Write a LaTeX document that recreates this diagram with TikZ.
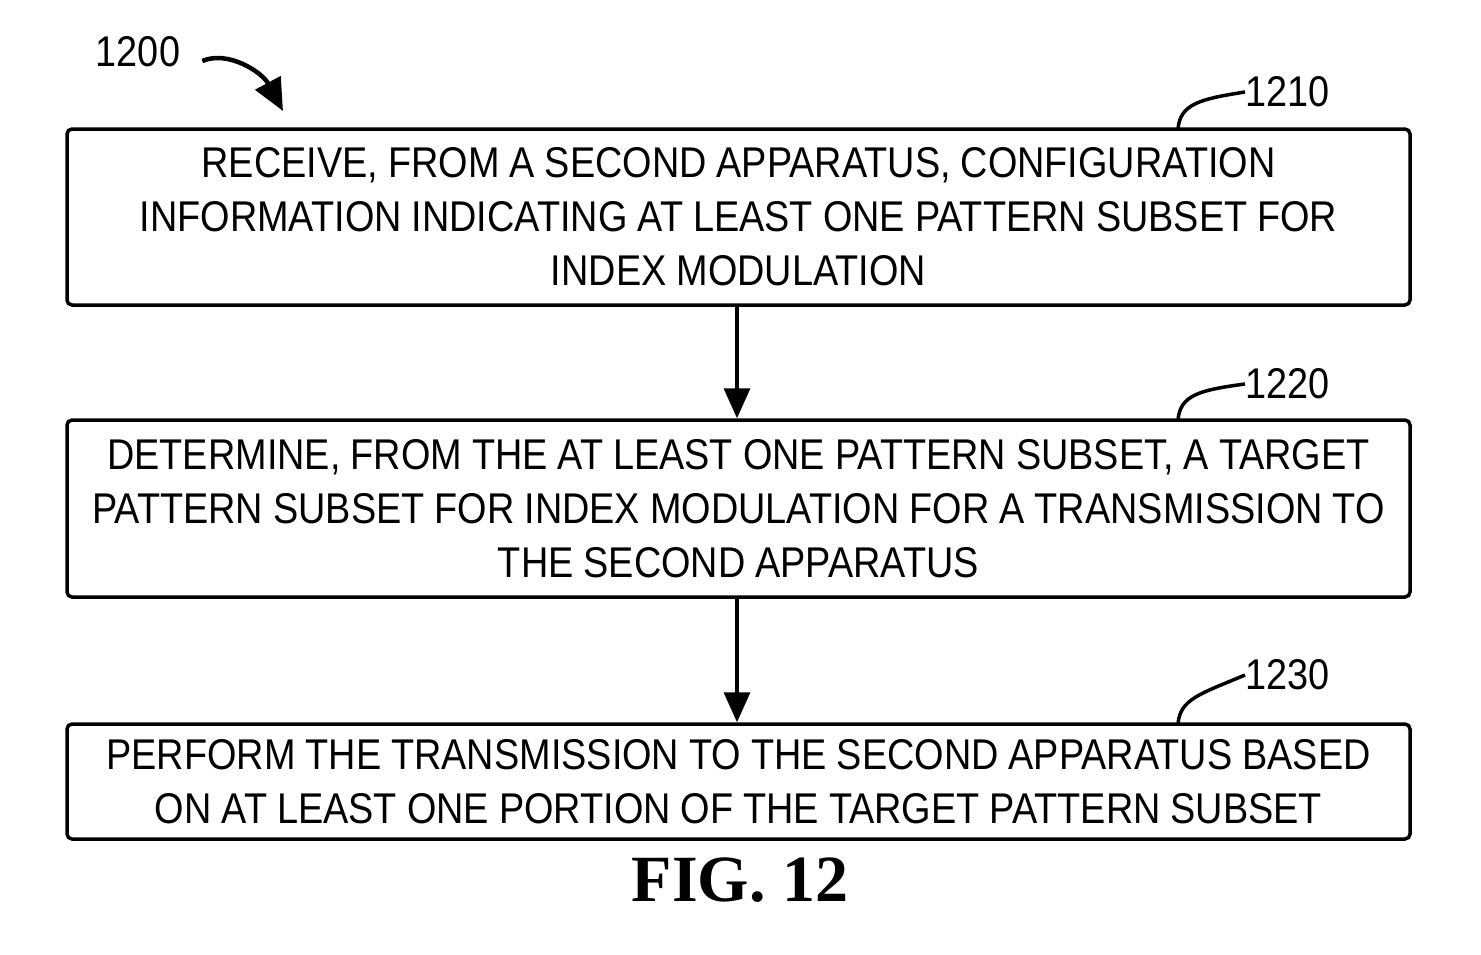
\documentclass[tikz,border=0pt]{standalone}
\usepackage{fontspec}
\setmainfont{Liberation Sans}[FakeStretch=0.88]
\newfontfamily\figfont{Liberation Serif}
\usetikzlibrary{arrows.meta,positioning}
\newcommand\stepfont{\fontsize{43}{54}\selectfont\spaceskip=10pt plus 2pt minus 1pt\relax}

\begin{document}
\begin{tikzpicture}[x=1pt,y=-1pt,
    stepbox/.style={draw, line width=3.5pt, rounded corners=5pt, minimum width=1343pt,
        align=center, inner sep=0pt, font=\stepfont},
    reflabel/.style={inner sep=0pt, font=\fontsize{43}{54}\selectfont},
    flow/.style={line width=3.5pt, -{Triangle[length=30pt,width=26pt]}},
    leader/.style={line width=3.5pt}
]
\useasboundingbox (0,0) rectangle (1481,954);

% process steps
\node[stepbox, minimum height=176pt] (s1210) at (738.5,217)
    {RECEIVE, FROM A SECOND APPARATUS, CONFIGURATION\\
     INFORMATION INDICATING AT LEAST ONE PATTERN SUBSET FOR\\
     INDEX MODULATION};
\node[stepbox, minimum height=177pt] (s1220) at (738.5,508.5)
    {DETERMINE, FROM THE AT LEAST ONE PATTERN SUBSET, A TARGET\\
     PATTERN SUBSET FOR INDEX MODULATION FOR A TRANSMISSION TO\\
     THE SECOND APPARATUS};
\node[stepbox, minimum height=115pt] (s1230) at (738.5,781.5)
    {PERFORM THE TRANSMISSION TO THE SECOND APPARATUS BASED\\
     ON AT LEAST ONE PORTION OF THE TARGET PATTERN SUBSET};

\draw[flow] (s1210.south -| 737,0) -- (s1220.north -| 737,0);
\draw[flow] (s1220.south -| 737,0) -- (s1230.north -| 737,0);

% reference numerals
\node[reflabel] (l1200) at (138,52) {1200};
\coordinate (p1200) at (283,111);
\draw[line width=4.5pt, -{Triangle[length=32pt,width=28pt]}]
    (l1200.east) ++(22,9) .. controls (228,50) and (262,72) .. (p1200);

\node[reflabel, anchor=west] (l1210) at (1245,92) {1210};
\node[reflabel, anchor=west] (l1220) at (1245,384) {1220};
\node[reflabel, anchor=west] (l1230) at (1245,675) {1230};
\foreach \n/\y in {1210/129,1220/420,1230/724}{
  \coordinate (c\n) at (1178,\y);
  \draw[leader] (l\n.west) .. controls (1200,\y-30) and (1180,\y-25) .. (c\n);
}

\node[inner sep=0pt, font=\figfont\bfseries\fontsize{66}{70}\selectfont] (fig) at (740,880) {FIG. 12};
\end{tikzpicture}
\end{document}
